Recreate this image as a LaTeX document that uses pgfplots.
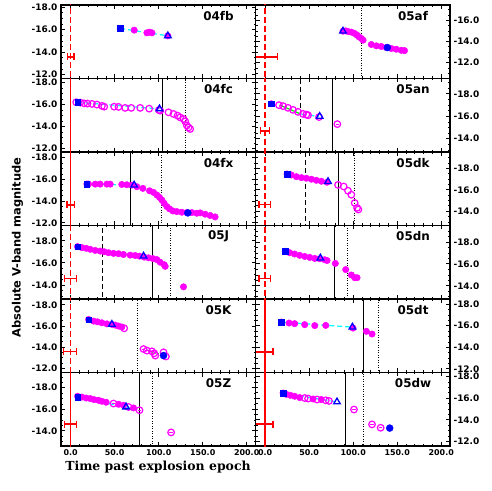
\documentclass[border=0pt]{standalone}
\usepackage{fontspec}
\setmainfont{DejaVu Sans}
\newfontfamily\serifx{DejaVu Serif}
\usepackage{pgfplots}
\pgfplotsset{compat=1.18}
\definecolor{pmag}{RGB}{255,0,255}
\definecolor{pblue}{RGB}{0,0,255}
\definecolor{pcyan}{RGB}{0,255,255}
\definecolor{pgreen}{RGB}{0,230,0}
\tikzset{pname/.style={font=\fontsize{12}{12}\selectfont\bfseries, anchor=center}}
\pgfplotsset{
  panel/.style={scale only axis, width=194.5bp, height=73.5bp,
    xmin=-11, xmax=210, y dir=reverse, clip=true,
    xtick={0,50,100,150,200}, minor x tick num=4,
    ytick={-20,-18,-16,-14,-12,-10}, minor y tick num=3,
    tick align=inside, major tick length=4bp, minor tick length=2bp,
    axis line style={line width=1.3bp},
    major tick style={black, line width=0.9bp},
    minor tick style={black, line width=0.7bp},
    xticklabels={},
    xticklabel style={font=\fontsize{8}{9}\selectfont\bfseries},
    yticklabel style={font=\fontsize{9}{10}\selectfont\bfseries, /pgf/number format/fixed, /pgf/number format/fixed zerofill, /pgf/number format/precision=1},
    /pgf/number format/assume math mode=true},
  lcol/.style={panel, yticklabel pos=left},
  rcol/.style={panel, yticklabel pos=right, yticklabel style={anchor=west}},
  bot/.style={xticklabels={0.0,50.0,100.0,150.0,200.0}},
  mfill/.style={only marks, mark=*, mark size=3.2bp, pmag, mark options={line width=0.5bp}},
  mopen/.style={only marks, mark=o, mark size=3.3bp, pmag, mark options={line width=1.2bp}},
  mbar/.style={only marks, mark=-, mark size=1.8bp, pmag, mark options={line width=0.8bp}},
  bsq/.style={only marks, mark=square*, mark size=2.8bp, pblue},
  btri/.style={only marks, mark=triangle, mark size=3.8bp, pblue, mark options={line width=1.3bp}},
  bcirc/.style={only marks, mark=*, mark size=3.5bp, pblue},
  fitc/.style={pcyan, line width=1.2bp, dash pattern=on 5bp off 3bp, mark=none},
  fitg/.style={pgreen, line width=1.2bp, mark=none},
  fitgd/.style={pgreen, line width=1.4bp, dash pattern=on 1bp off 2bp, mark=none},
  vsol/.style={black, line width=0.9bp, mark=none},
  vdash/.style={black, line width=1bp, dash pattern=on 5bp off 3bp, mark=none},
  vdot/.style={black, line width=0.9bp, dash pattern=on 1bp off 1.5bp, mark=none},
  rsol/.style={red, line width=1.5bp, mark=none},
  rdash/.style={red, line width=1.5bp, dash pattern=on 6bp off 3bp, mark=none},
  rerr/.style={red, only marks, mark=*, mark size=0.01bp, error bars/.cd, x dir=both, x explicit,
    error mark=none, error bar style={red, line width=1.3bp}},
  rcap/.style={red, only marks, mark=|, mark size=3.5bp, mark options={line width=1.3bp}}
}
\begin{document}
\begin{tikzpicture}[x=1bp,y=1bp]
\useasboundingbox (0,0) rectangle (491,491);

% ---------- 04fb ----------
\begin{axis}[lcol, at={(61bp,412.5bp)}, anchor=south west, ymin=-18.2, ymax=-11.65]
\addplot[rdash] coordinates {(0,-30) (0,0)};
\addplot[rerr] coordinates {(-0.2,-13.57) +- (3.8,0)};
\addplot[rcap] coordinates {(-4,-13.57) (3.6,-13.57)};
\addplot[mfill] coordinates {(56.3,-16.11) (72.2,-15.96) (86.6,-15.72) (89.5,-15.78) (92.3,-15.72) (110.4,-15.45)};
\addplot[fitc] coordinates {(56.3,-16.11) (110.4,-15.45)};
\addplot[bsq] coordinates {(56.3,-16.11)};
\addplot[btri] coordinates {(110.4,-15.45)};
\node[pname] at (rel axis cs:0.81,0.85) {04fb};
\end{axis}

% ---------- 04fc ----------
\begin{axis}[lcol, at={(61bp,339bp)}, anchor=south west, ymin=-18.35, ymax=-11.7]
\addplot[rsol] coordinates {(0,-30) (0,0)};
\addplot[rcap] coordinates {(0,-13.69)};
\addplot[vsol] coordinates {(104.3,-30) (104.3,0)};
\addplot[vdot] coordinates {(130.9,-30) (130.9,0)};
\addplot[mopen] coordinates {(6.3,-16.2) (10.8,-16.17) (15.3,-16.1) (19.1,-16.08) (24.1,-16.05) (29.8,-15.99) (35.5,-15.87) (38.1,-15.8) (49.4,-15.8) (54.3,-15.78) (61.9,-15.69) (68.8,-15.69) (79,-15.69) (89.2,-15.62) (100.2,-15.5) (101.7,-15.44) (111.1,-15.29) (116.8,-15.14) (121.4,-14.99) (124.4,-14.83) (128.2,-14.69) (130.1,-14.47) (132,-14.1) (133.9,-13.92) (135.8,-13.78)};
\addplot[fitc] coordinates {(7.8,-16.2) (100.9,-15.6)};
\addplot[bsq] coordinates {(7.8,-16.2)};
\addplot[btri] coordinates {(100.9,-15.6)};
\node[pname] at (rel axis cs:0.81,0.85) {04fc};
\end{axis}

% ---------- 04fx ----------
\begin{axis}[lcol, at={(61bp,265.5bp)}, anchor=south west, ymin=-18.52, ymax=-11.75]
\addplot[rsol] coordinates {(0,-30) (0,0)};
\addplot[rerr] coordinates {(-0.1,-13.64) +- (4.2,0)};
\addplot[rcap] coordinates {(-4.3,-13.64) (4.1,-13.64)};
\addplot[vsol] coordinates {(67.6,-30) (67.6,0)};
\addplot[vdot] coordinates {(102.8,-30) (102.8,0)};
\addplot[mfill] coordinates {(18.4,-15.57) (20.3,-15.56) (27.9,-15.56) (33.5,-15.56) (41.1,-15.56) (44.9,-15.56) (58.1,-15.53) (63.8,-15.5) (69.5,-15.47) (75.2,-15.32) (82,-15.17) (89.6,-14.95) (94.1,-14.8) (97.9,-14.56) (100.9,-14.34) (103.6,-14.1) (106.2,-13.79) (109.3,-13.49) (112.3,-13.28) (116.1,-13.09) (120.6,-13.03) (126.3,-12.97) (132,-12.94) (137.7,-12.94) (143.3,-12.88) (147.1,-12.91) (152.8,-12.79) (158.5,-12.67) (164.1,-12.54)};
\addplot[fitc] coordinates {(18.4,-15.57) (72.1,-15.47)};
\addplot[fitgd] coordinates {(112,-13.09) (162,-12.64)};
\addplot[bsq] coordinates {(18.4,-15.57)};
\addplot[btri] coordinates {(72.1,-15.47)};
\addplot[bcirc] coordinates {(133.1,-12.91)};
\node[pname] at (rel axis cs:0.81,0.85) {04fx};
\end{axis}

% ---------- 05J ----------
\begin{axis}[lcol, at={(61bp,192bp)}, anchor=south west, ymin=-19.38, ymax=-12.74]
\addplot[rdash] coordinates {(0,-30) (0,0)};
\addplot[rerr] coordinates {(-0.2,-14.61) +- (7.2,0)};
\addplot[rcap] coordinates {(-7.4,-14.61) (7,-14.61)};
\addplot[vdash] coordinates {(36.6,-30) (36.6,0)};
\addplot[vsol] coordinates {(93,-30) (93,0)};
\addplot[vdot] coordinates {(113.1,-30) (113.1,0)};
\addplot[mfill] coordinates {(7.8,-17.47) (12.7,-17.38) (17.6,-17.32) (22.2,-17.23) (27.8,-17.13) (33.5,-17.07) (38.1,-17.01) (43,-16.92) (48.7,-16.86) (54.4,-16.83) (60,-16.76) (67.6,-16.7) (73.3,-16.67) (78.2,-16.61) (83.5,-16.52) (88.4,-16.46) (93.4,-16.39) (97.9,-16.3) (101.7,-16.06) (106.2,-15.84) (107.4,-15.69) (128.2,-13.84)};
\addplot[fitg] coordinates {(20.3,-17.38) (36.6,-17.01)};
\addplot[fitc] coordinates {(36.6,-17.01) (82.8,-16.61)};
\addplot[bsq] coordinates {(7.8,-17.47)};
\addplot[btri] coordinates {(82.8,-16.61)};
\node[pname] at (rel axis cs:0.81,0.85) {05J};
\end{axis}

% ---------- 05K ----------
\begin{axis}[lcol, at={(61bp,118.5bp)}, anchor=south west, ymin=-18.55, ymax=-11.6]
\addplot[rdash] coordinates {(0,-30) (0,0)};
\addplot[rerr] coordinates {(-0.5,-13.6) +- (7.5,0)};
\addplot[rcap] coordinates {(-8,-13.6) (7,-13.6)};
\addplot[vdot] coordinates {(76,-30) (76,0)};
\addplot[mfill] coordinates {(20.3,-16.61) (26,-16.46) (30.5,-16.39) (35.4,-16.3) (41.1,-16.2) (46.8,-16.15) (50.6,-16.08) (54.4,-15.99) (58.1,-15.9)};
\addplot[mopen] coordinates {(60.8,-15.78) (82.8,-13.82) (86.6,-13.67) (92.3,-13.6) (94.9,-13.42) (96.1,-13.2) (105.5,-13.51) (108.2,-13.11)};
\addplot[mbar] coordinates {(82.8,-13.82) (86.6,-13.67) (92.3,-13.6) (105.5,-13.51)};
\addplot[fitc] coordinates {(20.3,-16.61) (60.8,-15.85)};
\addplot[fitgd] coordinates {(82.8,-13.82) (105.5,-13.2)};
\addplot[bsq] coordinates {(20.3,-16.61)};
\addplot[btri] coordinates {(46.8,-16.15)};
\addplot[bcirc] coordinates {(105.5,-13.2)};
\node[pname] at (rel axis cs:0.81,0.85) {05K};
\end{axis}

% ---------- 05Z ----------
\begin{axis}[lcol, bot, at={(61bp,45bp)}, anchor=south west, ymin=-19.41, ymax=-12.59]
\addplot[rsol] coordinates {(0,-30) (0,0)};
\addplot[rerr] coordinates {(-0.2,-14.62) +- (7.2,0)};
\addplot[rcap] coordinates {(-7.4,-14.62) (7,-14.62)};
\addplot[vsol] coordinates {(78.2,-30) (78.2,0)};
\addplot[vdot] coordinates {(93.3,-30) (93.3,0)};
\addplot[mfill] coordinates {(7.8,-17.2) (12.7,-17.13) (17.6,-17.04) (22.2,-16.99) (26.7,-16.89) (31.6,-16.83) (35.4,-16.74) (40.3,-16.65) (54.4,-16.46) (60,-16.37) (71.4,-16.12)};
\addplot[mopen] coordinates {(48.7,-16.53) (65.7,-16.21) (78.2,-15.91) (114.1,-13.85)};
\addplot[mbar] coordinates {(48.7,-16.53) (78.2,-15.91) (114.1,-13.85)};
\addplot[fitc] coordinates {(7.8,-17.13) (77,-15.95)};
\addplot[bsq] coordinates {(7.8,-17.13)};
\addplot[btri] coordinates {(62.9,-16.21)};
\node[pname] at (rel axis cs:0.81,0.85) {05Z};
\end{axis}

% ---------- 05af ----------
\begin{axis}[rcol, at={(255.5bp,412.5bp)}, anchor=south west, ymin=-17.46, ymax=-10.5]
\addplot[rdash] coordinates {(0,-30) (0,0)};
\addplot[rerr] coordinates {(1.5,-12.54) +- (12.3,0)};
\addplot[rcap] coordinates {(13.8,-12.54)};
\addplot[vdot] coordinates {(109.3,-30) (109.3,0)};
\addplot[mfill] coordinates {(88.4,-14.98) (91.5,-15.01) (94.1,-14.95) (97.9,-14.89) (101.7,-14.76) (104.4,-14.6) (106.6,-14.44) (109.3,-14.29) (111.2,-14.13) (120.6,-13.72) (126.3,-13.59) (131.9,-13.53) (137.6,-13.43) (143.3,-13.34) (148.9,-13.27) (154.6,-13.17) (158.3,-13.14)};
\addplot[fitgd] coordinates {(120.6,-13.72) (158.3,-13.14)};
\addplot[btri] coordinates {(88.4,-14.98)};
\addplot[bcirc] coordinates {(138.8,-13.43)};
\node[pname] at (rel axis cs:0.81,0.85) {05af};
\end{axis}

% ---------- 05an ----------
\begin{axis}[rcol, at={(255.5bp,339bp)}, anchor=south west, ymin=-19.36, ymax=-12.82]
\addplot[rdash] coordinates {(0,-30) (0,0)};
\addplot[rerr] coordinates {(-0.5,-14.69) +- (5,0)};
\addplot[rcap] coordinates {(-5.5,-14.69) (4.5,-14.69)};
\addplot[vdash] coordinates {(39.9,-30) (39.9,0)};
\addplot[vsol] coordinates {(76.3,-30) (76.3,0)};
\addplot[mfill] coordinates {(7,-17.11)};
\addplot[mopen] coordinates {(15.7,-16.99) (20.3,-16.9) (25.9,-16.75) (31.6,-16.57) (37.3,-16.39) (43,-16.21) (46.8,-16.15) (48.7,-16.09) (61.2,-15.93) (82,-15.3)};
\addplot[mbar] coordinates {(82,-15.3)};
\addplot[fitg] coordinates {(16.5,-16.99) (41.1,-16.18)};
\addplot[fitc] coordinates {(41.1,-16.18) (61,-15.99)};
\addplot[bsq] coordinates {(7,-17.11)};
\addplot[btri] coordinates {(61.9,-15.99)};
\node[pname] at (rel axis cs:0.81,0.85) {05an};
\end{axis}

% ---------- 05dk ----------
\begin{axis}[rcol, at={(255.5bp,265.5bp)}, anchor=south west, ymin=-19.54, ymax=-12.66]
\addplot[rdash] coordinates {(0,-30) (0,0)};
\addplot[rerr] coordinates {(-0.5,-14.62) +- (6.5,0)};
\addplot[rcap] coordinates {(-7,-14.62) (6,-14.62)};
\addplot[vdash] coordinates {(46,-30) (46,0)};
\addplot[vsol] coordinates {(82.8,-30) (82.8,0)};
\addplot[vdot] coordinates {(101.7,-30) (101.7,0)};
\addplot[mfill] coordinates {(24.8,-17.48) (29.7,-17.39) (35.4,-17.23) (41.1,-17.14) (46.8,-17.08) (52.5,-16.99) (58.1,-16.89) (63.8,-16.8) (70.3,-16.71)};
\addplot[mopen] coordinates {(82.8,-16.46) (89.2,-16.31) (94.1,-15.91) (97.9,-15.54) (101.7,-14.77) (104.4,-14.31) (105.9,-14.16)};
\addplot[fitg] coordinates {(24.8,-17.48) (46,-17.08)};
\addplot[fitc] coordinates {(46,-17.08) (71.4,-16.77)};
\addplot[bsq] coordinates {(24.8,-17.48)};
\addplot[btri] coordinates {(71.4,-16.77)};
\node[pname] at (rel axis cs:0.81,0.85) {05dk};
\end{axis}

% ---------- 05dn ----------
\begin{axis}[rcol, at={(255.5bp,192bp)}, anchor=south west, ymin=-19.5, ymax=-12.8]
\addplot[rdash] coordinates {(0,-30) (0,0)};
\addplot[rerr] coordinates {(-0.5,-14.68) +- (6.5,0)};
\addplot[rcap] coordinates {(-7,-14.68) (6,-14.68)};
\addplot[vsol] coordinates {(79,-30) (79,0)};
\addplot[vdot] coordinates {(93,-30) (93,0)};
\addplot[mfill] coordinates {(22.9,-17.15) (27.8,-17.02) (33.5,-16.9) (39.2,-16.78) (44.9,-16.68) (50.6,-16.59) (56.3,-16.5) (61.9,-16.47) (67.6,-16.38) (70.3,-16.31) (79.7,-16.04) (91.5,-15.48) (97.9,-14.99) (101.7,-14.74) (104.4,-14.74)};
\addplot[fitc] coordinates {(22.9,-17.15) (67.6,-16.38)};
\addplot[bsq] coordinates {(22.9,-17.15)};
\addplot[btri] coordinates {(62.7,-16.53)};
\node[pname] at (rel axis cs:0.81,0.85) {05dn};
\end{axis}

% ---------- 05dt ----------
\begin{axis}[rcol, at={(255.5bp,118.5bp)}, anchor=south west, ymin=-18.48, ymax=-11.66]
\addplot[rsol] coordinates {(0,-30) (0,0)};
\addplot[rerr] coordinates {(-1,-13.57) +- (10,0)};
\addplot[rcap] coordinates {(9,-13.57)};
\addplot[vsol] coordinates {(111.9,-30) (111.9,0)};
\addplot[vdot] coordinates {(128.9,-30) (128.9,0)};
\addplot[mfill] coordinates {(18.4,-16.34) (27.1,-16.25) (33.5,-16.19) (44.9,-16.1) (56.3,-16.01) (68.8,-16.03) (99.8,-15.78) (115,-15.48) (121.4,-15.23)};
\addplot[fitc] coordinates {(18.4,-16.34) (99.1,-15.87)};
\addplot[bsq] coordinates {(18.4,-16.34)};
\addplot[btri] coordinates {(99.1,-15.87)};
\node[pname] at (rel axis cs:0.81,0.85) {05dt};
\end{axis}

% ---------- 05dw ----------
\begin{axis}[rcol, bot, at={(255.5bp,45bp)}, anchor=south west, ymin=-18.37, ymax=-11.6]
\addplot[rsol] coordinates {(0,-30) (0,0)};
\addplot[rerr] coordinates {(-0.8,-13.62) +- (9.7,0)};
\addplot[rcap] coordinates {(8.9,-13.62)};
\addplot[vsol] coordinates {(91.5,-30) (91.5,0)};
\addplot[vdot] coordinates {(111.9,-30) (111.9,0)};
\addplot[mfill] coordinates {(20.3,-16.48) (24.1,-16.36) (28.6,-16.27) (33.5,-16.18) (39.2,-16.06) (54.4,-15.93) (63.8,-15.88)};
\addplot[mopen] coordinates {(44.9,-16.02) (48.7,-15.97) (58.9,-15.88) (68.8,-15.81) (72.5,-15.75) (100.9,-14.96) (121.4,-13.59) (131.2,-13.28)};
\addplot[mbar] coordinates {(100.9,-14.96) (121.4,-13.59) (131.2,-13.28)};
\addplot[fitc] coordinates {(20.3,-16.48) (81.6,-15.66)};
\addplot[bsq] coordinates {(20.3,-16.48)};
\addplot[btri] coordinates {(81.6,-15.66)};
\addplot[bcirc] coordinates {(141.5,-13.25)};
\node[pname] at (rel axis cs:0.81,0.85) {05dw};
\end{axis}

\node[rotate=90, font=\fontsize{11.5}{12}\selectfont\bfseries] at (17.5bp,243.5bp) {Absolute V-band magnitude};
\node[font=\serifx\bfseries\fontsize{12.5}{13}\selectfont] at (158bp,24bp) {Time past explosion epoch};
\end{tikzpicture}
\end{document}
